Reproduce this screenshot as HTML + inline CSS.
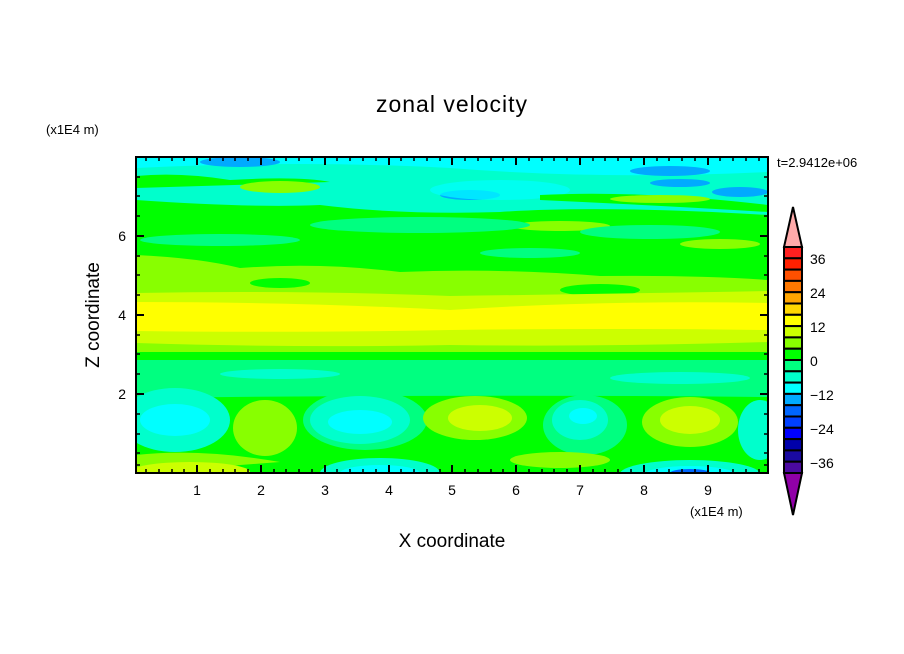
<!DOCTYPE html>
<html><head><meta charset="utf-8"><style>
html,body{margin:0;padding:0;background:#fff;}
svg{display:block;font-family:"Liberation Sans",sans-serif;}
</style></head><body>
<svg width="904" height="654" viewBox="0 0 904 654" xmlns="http://www.w3.org/2000/svg">
<defs><clipPath id="c"><rect x="136" y="157" width="632" height="316"/></clipPath></defs>
<rect width="904" height="654" fill="#fff"/>
<g clip-path="url(#c)">
<rect x="136" y="157" width="632" height="316" fill="#00ff80"/>
<!-- top region -->
<rect x="136" y="157" width="632" height="60" fill="#00ffcc"/>
<path d="M136,157 H768 V172 Q600,180 450,168 Q300,160 136,168Z" fill="#00ffff"/>
<ellipse cx="240" cy="162" rx="40" ry="5" fill="#00aaff"/>
<ellipse cx="670" cy="171" rx="40" ry="5" fill="#00aaff"/>
<ellipse cx="680" cy="183" rx="30" ry="4" fill="#00aaff"/>
<ellipse cx="470" cy="195" rx="30" ry="5" fill="#00aaff"/>
<ellipse cx="740" cy="192" rx="28" ry="5" fill="#00aaff"/>
<ellipse cx="500" cy="190" rx="70" ry="10" fill="#00ffff" opacity="0.7"/>
<path d="M136,176 Q180,172 230,180 Q300,176 330,182 L136,188Z" fill="#00ff00"/>
<ellipse cx="280" cy="187" rx="40" ry="6" fill="#88ff00"/>
<path d="M136,200 Q250,208 320,205 Q400,215 500,212 Q600,205 768,215 V235 H136Z" fill="#00ff00"/>
<path d="M540,195 Q640,190 768,205 V212 Q650,205 540,200Z" fill="#00ff00"/>
<ellipse cx="660" cy="199" rx="50" ry="4" fill="#88ff00"/>
<ellipse cx="560" cy="226" rx="50" ry="5" fill="#88ff00"/>
<rect x="136" y="232" width="632" height="58" fill="#00ff00"/>
<ellipse cx="220" cy="240" rx="80" ry="6" fill="#00ff80"/>
<ellipse cx="420" cy="225" rx="110" ry="8" fill="#00ff80"/>
<ellipse cx="650" cy="232" rx="70" ry="7" fill="#00ff80"/>
<ellipse cx="530" cy="253" rx="50" ry="5" fill="#00ff80"/>
<ellipse cx="720" cy="244" rx="40" ry="5" fill="#88ff00"/>
<!-- chartreuse / yellow band -->
<path d="M136,255 Q200,258 240,268 Q320,262 400,272 Q500,268 600,276 Q700,275 768,280 V352 H136Z" fill="#88ff00"/>
<ellipse cx="280" cy="283" rx="30" ry="5" fill="#00ff00"/>
<ellipse cx="600" cy="290" rx="40" ry="6" fill="#00ff00"/>
<path d="M136,293 Q300,290 450,296 Q600,294 768,291 V342 Q600,347 450,345 Q300,348 136,343Z" fill="#ccff00"/>
<path d="M136,302 Q300,302 450,310 Q600,300 768,303 V330 Q600,328 450,330 Q300,333 136,331Z" fill="#ffff00"/>
<rect x="136" y="352" width="632" height="8" fill="#00ff00"/>
<!-- lower region -->
<ellipse cx="280" cy="374" rx="60" ry="5" fill="#00ffcc"/>
<ellipse cx="680" cy="378" rx="70" ry="6" fill="#00ffcc"/>
<path d="M136,398 Q450,394 768,397 V473 H136Z" fill="#00ff00"/>
<ellipse cx="175" cy="420" rx="55" ry="32" fill="#00ffcc"/>
<ellipse cx="175" cy="420" rx="35" ry="16" fill="#00ffff"/>
<ellipse cx="365" cy="420" rx="62" ry="30" fill="#00ff80"/>
<ellipse cx="360" cy="420" rx="50" ry="24" fill="#00ffcc"/>
<ellipse cx="360" cy="422" rx="32" ry="12" fill="#00ffff"/>
<ellipse cx="265" cy="428" rx="32" ry="28" fill="#88ff00"/>
<ellipse cx="475" cy="418" rx="52" ry="22" fill="#88ff00"/>
<ellipse cx="480" cy="418" rx="32" ry="13" fill="#ccff00"/>
<ellipse cx="585" cy="425" rx="42" ry="30" fill="#00ff80"/>
<ellipse cx="580" cy="420" rx="28" ry="20" fill="#00ffcc"/>
<ellipse cx="583" cy="416" rx="14" ry="8" fill="#00ffff"/>
<ellipse cx="690" cy="422" rx="48" ry="25" fill="#88ff00"/>
<ellipse cx="690" cy="420" rx="30" ry="14" fill="#ccff00"/>
<ellipse cx="760" cy="430" rx="22" ry="30" fill="#00ffcc"/>
<path d="M136,455 Q200,448 280,462 L136,473Z" fill="#88ff00"/>
<ellipse cx="190" cy="472" rx="60" ry="10" fill="#ccff00"/>
<ellipse cx="380" cy="473" rx="60" ry="15" fill="#00ffcc"/>
<ellipse cx="380" cy="473" rx="40" ry="8" fill="#00ffff"/>
<ellipse cx="560" cy="460" rx="50" ry="8" fill="#88ff00"/>
<ellipse cx="690" cy="474" rx="70" ry="14" fill="#00ffcc"/>
<ellipse cx="690" cy="474" rx="45" ry="8" fill="#00ffff"/>
<ellipse cx="690" cy="473" rx="20" ry="4" fill="#0066ff"/>
</g>
<rect x="136" y="157" width="632" height="316" fill="none" stroke="#000" stroke-width="2"/>
<g stroke="#000" stroke-width="1.5" id="ticks">
<!-- x major -->
<path d="M197,473v-8M261,473v-8M325,473v-8M389,473v-8M452,473v-8M516,473v-8M580,473v-8M644,473v-8M708,473v-8
M197,157v8M261,157v8M325,157v8M389,157v8M452,157v8M516,157v8M580,157v8M644,157v8M708,157v8" stroke-width="2"/>
<path d="M146,473v-4M159,473v-4M172,473v-4M184,473v-4M210,473v-4M223,473v-4M235,473v-4M248,473v-4M274,473v-4M286,473v-4M299,473v-4M312,473v-4M337,473v-4M350,473v-4M363,473v-4M376,473v-4M401,473v-4M414,473v-4M427,473v-4M440,473v-4M465,473v-4M478,473v-4M491,473v-4M503,473v-4M529,473v-4M542,473v-4M554,473v-4M567,473v-4M593,473v-4M605,473v-4M618,473v-4M631,473v-4M657,473v-4M669,473v-4M682,473v-4M695,473v-4M720,473v-4M733,473v-4M746,473v-4M759,473v-4
M146,157v4M159,157v4M172,157v4M184,157v4M210,157v4M223,157v4M235,157v4M248,157v4M274,157v4M286,157v4M299,157v4M312,157v4M337,157v4M350,157v4M363,157v4M376,157v4M401,157v4M414,157v4M427,157v4M440,157v4M465,157v4M478,157v4M491,157v4M503,157v4M529,157v4M542,157v4M554,157v4M567,157v4M593,157v4M605,157v4M618,157v4M631,157v4M657,157v4M669,157v4M682,157v4M695,157v4M720,157v4M733,157v4M746,157v4M759,157v4"/>
<path d="M136,394h8M136,315h8M136,236h8M768,394h-8M768,315h-8M768,236h-8" stroke-width="2"/>
<path d="M136,465h4M136,453h4M136,434h4M136,414h4M136,374h4M136,354h4M136,335h4M136,295h4M136,275h4M136,256h4M136,216h4M136,196h4M136,177h4
M768,465h-4M768,453h-4M768,434h-4M768,414h-4M768,374h-4M768,354h-4M768,335h-4M768,295h-4M768,275h-4M768,256h-4M768,216h-4M768,196h-4M768,177h-4"/>
</g>
<g font-size="14" fill="#000" text-anchor="middle">
<text x="197" y="495">1</text><text x="261" y="495">2</text><text x="325" y="495">3</text><text x="389" y="495">4</text><text x="452" y="495">5</text><text x="516" y="495">6</text><text x="580" y="495">7</text><text x="644" y="495">8</text><text x="708" y="495">9</text>
</g>
<g font-size="14" fill="#000" text-anchor="end">
<text x="126" y="399">2</text><text x="126" y="320">4</text><text x="126" y="241">6</text>
</g>
<text x="452" y="112" font-size="23" text-anchor="middle" letter-spacing="1">zonal velocity</text>
<text x="452" y="547" font-size="19" text-anchor="middle">X coordinate</text>
<text transform="translate(99,315) rotate(-90)" font-size="19" text-anchor="middle">Z coordinate</text>
<text x="46" y="134" font-size="13">(x1E4 m)</text>
<text x="690" y="516" font-size="13">(x1E4 m)</text>
<text x="777" y="167" font-size="13">t=2.9412e+06</text>
<!-- colorbar -->
<g stroke="#000" stroke-width="2">
<path d="M793,207 L802,247 H784Z" fill="#ffaaaa"/>
<path d="M784,473 H802 L793,515Z" fill="#9000a8"/>
<rect x="784" y="247.0" width="18" height="11.3" fill="#ff2020"/>
<rect x="784" y="258.3" width="18" height="11.3" fill="#ff2000"/>
<rect x="784" y="269.6" width="18" height="11.3" fill="#ff5000"/>
<rect x="784" y="280.9" width="18" height="11.3" fill="#ff7800"/>
<rect x="784" y="292.2" width="18" height="11.3" fill="#ffa500"/>
<rect x="784" y="303.5" width="18" height="11.3" fill="#ffd700"/>
<rect x="784" y="314.8" width="18" height="11.3" fill="#ffff00"/>
<rect x="784" y="326.1" width="18" height="11.3" fill="#ccff00"/>
<rect x="784" y="337.4" width="18" height="11.3" fill="#88ff00"/>
<rect x="784" y="348.7" width="18" height="11.3" fill="#00ff00"/>
<rect x="784" y="360.0" width="18" height="11.3" fill="#00ff80"/>
<rect x="784" y="371.3" width="18" height="11.3" fill="#00ffcc"/>
<rect x="784" y="382.6" width="18" height="11.3" fill="#00ffff"/>
<rect x="784" y="393.9" width="18" height="11.3" fill="#00aaff"/>
<rect x="784" y="405.2" width="18" height="11.3" fill="#0066ff"/>
<rect x="784" y="416.5" width="18" height="11.3" fill="#0040ff"/>
<rect x="784" y="427.8" width="18" height="11.3" fill="#0000ff"/>
<rect x="784" y="439.1" width="18" height="11.3" fill="#0000aa"/>
<rect x="784" y="450.4" width="18" height="11.3" fill="#1a0aa0"/>
<rect x="784" y="461.7" width="18" height="11.3" fill="#4b0aa0"/>
</g>
<g font-size="14" fill="#000">
<text x="810" y="264">36</text><text x="810" y="298">24</text><text x="810" y="332">12</text><text x="810" y="366">0</text>
<text x="810" y="400">−12</text><text x="810" y="434">−24</text><text x="810" y="468">−36</text>
</g>
</svg>
</body></html>
